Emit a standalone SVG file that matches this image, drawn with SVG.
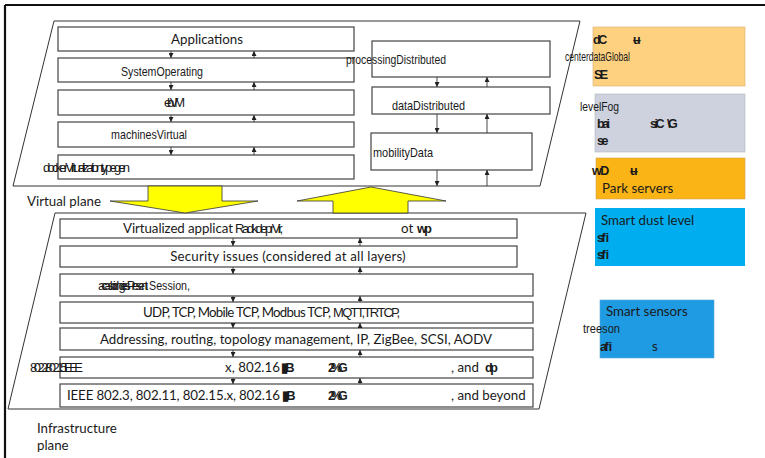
<svg xmlns="http://www.w3.org/2000/svg" width="765" height="458" viewBox="0 0 765 458">
<defs>
<marker id="ah" viewBox="0 0 6 6" refX="6" refY="3" markerWidth="5" markerHeight="5" orient="auto" markerUnits="userSpaceOnUse">
<path d="M0,0 L6,3 L0,6 z" fill="#222"/>
</marker>
<style>
.plane{fill:#fff;stroke:#333;stroke-width:1}
.box{fill:#fff;stroke:#444;stroke-width:1.2}
.t{font-family:Lato,"Liberation Sans",sans-serif;font-size:13.3px;fill:#1a1a1a}
.n{font-family:"Liberation Sans",Arial,sans-serif;font-size:13px;fill:#1a1a1a}
.g{font-family:"Liberation Sans",Arial,sans-serif;font-size:12.5px;font-weight:bold;fill:#1a1a1a;letter-spacing:-2.5px}
.con line{stroke:#333;stroke-width:0.9;marker-end:url(#ah)}
.yel{fill:#ffff00;stroke:#333;stroke-width:0.8}
</style>
</defs>
<rect width="765" height="458" fill="#fff"/>
<path d="M5,5 H765 M5,5 V458" stroke="#111" stroke-width="2.2" fill="none"/>

<g id="virtual-plane">
<polygon class="plane" points="54,21 580,21 540,186 13,186"/>
<text class="t" x="27" y="206">Virtual plane</text>
</g>
<g id="infrastructure-plane">
<polygon class="plane" points="55,213 586,213 539,409 8,409"/>
<text class="t" x="37" y="433">Infrastructure</text>
<text class="t" x="37" y="450">plane</text>
</g>

<g id="applications"><rect class="box" x="58" y="27" width="296" height="24"/><text class="t" x="207" y="44" text-anchor="middle">Applications</text></g>
<g id="operating-system"><rect class="box" x="58" y="58" width="296" height="24"/><text class="n" x="121" y="76" textLength="82" lengthAdjust="spacingAndGlyphs">SystemOperating</text></g>
<g id="vm"><rect class="box" x="58" y="90" width="296" height="25"/><text class="n" x="164" y="107" textLength="21" lengthAdjust="spacing">ebVM</text></g>
<g id="virtual-machines"><rect class="box" x="58" y="122" width="296" height="25"/><text class="n" x="111" y="139" textLength="76" lengthAdjust="spacingAndGlyphs">machinesVirtual</text></g>
<g id="virtualization"><rect class="box" x="58" y="155" width="296" height="24"/><text class="n" x="43" y="172" textLength="87" lengthAdjust="spacing">dockerVirtualizationtypegen</text></g>

<g id="distributed-processing"><rect class="box" x="372" y="41" width="178" height="36"/><text class="n" x="346" y="64" textLength="100" lengthAdjust="spacingAndGlyphs">processingDistributed</text></g>
<g id="distributed-data"><rect class="box" x="372" y="87" width="178" height="27"/><text class="n" x="392" y="110" textLength="73" lengthAdjust="spacingAndGlyphs">dataDistributed</text></g>
<g id="data-mobility"><rect class="box" x="371" y="133" width="161" height="37"/><text class="n" x="373" y="157" textLength="60" lengthAdjust="spacingAndGlyphs">mobilityData</text></g>

<g id="arrow-down"><polygon class="yel" points="148,186 222,186 222,201 258,201 185,213 110,201 148,201"/></g>
<g id="arrow-up"><polygon class="yel" points="333,213 408,213 408,201 446,201 371,187 297,201 333,201"/></g>

<g id="virtualized-apps"><rect class="box" x="60" y="219" width="457" height="19"/><text class="t" x="123" y="233" textLength="110">Virtualized  applicat</text><text class="n" x="235" y="233" textLength="48" lengthAdjust="spacing">RadkdeprVir,</text><text class="t" x="401" y="233">ot</text><text class="g" x="417" y="233">wp</text></g>
<g id="security"><rect class="box" x="60" y="246" width="457" height="21"/><text class="t" x="288" y="261" text-anchor="middle" style="letter-spacing:0.2px">Security issues (considered at all layers)</text></g>
<g id="session"><rect class="box" x="60" y="274" width="473" height="22"/><text class="n" x="98" y="290" textLength="50" lengthAdjust="spacing">acasbidngiesPresent</text><text class="n" x="149" y="290" textLength="41" lengthAdjust="spacingAndGlyphs">Session,</text></g>
<g id="transport"><rect class="box" x="60" y="302" width="473" height="21"/><text class="t" x="143" y="317" textLength="188">UDP, TCP, Mobile TCP, Modbus TCP,</text><text class="n" x="333" y="317" textLength="67" lengthAdjust="spacing">MQTT,TRTCP,</text></g>
<g id="network"><rect class="box" x="60" y="328" width="473" height="22"/><text class="t" x="100" y="344" textLength="392">Addressing, routing, topology management, IP, ZigBee, SCSI, AODV</text></g>
<g id="datalink"><rect class="box" x="60" y="357" width="473" height="21"/><text class="n" x="30" y="372" textLength="53" lengthAdjust="spacing">802.2/802.15IEEE</text><text class="t" x="225" y="372" textLength="55">x, 802.16</text><text class="g" x="281" y="372">▮B</text><text class="g" x="328" y="372" style="letter-spacing:-4px">2%G</text><text class="t" x="451" y="372">, and</text><text class="g" x="485" y="372">dp</text></g>
<g id="physical"><rect class="box" x="60" y="384" width="473" height="23"/><text class="t" x="67" y="400" textLength="213">IEEE 802.3, 802.11, 802.15.x, 802.16</text><text class="g" x="282" y="400">▮B</text><text class="g" x="328" y="400" style="letter-spacing:-4px">2%G</text><text class="t" x="451" y="400">, and beyond</text></g>

<g id="global-data-center"><rect x="593" y="27" width="152" height="59" fill="#fdd17f" stroke="#d8b070" stroke-width="0.6"/><text class="g" x="593" y="44">dC</text><text class="g" x="633" y="44">ʉ</text><text class="n" x="565" y="61" textLength="65" lengthAdjust="spacingAndGlyphs">centerdataGlobal</text><text class="g" x="594" y="79">SE</text></g>
<g id="fog-level"><rect x="595" y="94" width="150" height="58" fill="#cdd2de" stroke="#b0b4c0" stroke-width="0.6"/><text class="n" x="580" y="111" textLength="39" lengthAdjust="spacingAndGlyphs">levelFog</text><text class="g" x="597" y="128">bai</text><text class="g" x="650" y="128">siC</text><text class="g" x="667" y="128">\G</text><text class="g" x="597" y="145">se</text></g>
<g id="park-servers"><rect x="596" y="158" width="149" height="41" fill="#fbb416" stroke="#d0a050" stroke-width="0.6"/><text class="g" x="592" y="175" style="letter-spacing:-1.5px">wD</text><text class="g" x="630" y="175">ʉ</text><text class="t" x="602" y="193">Park servers</text></g>
<g id="smart-dust"><rect x="595" y="208" width="150" height="58" fill="#00aeef"/><text class="t" x="601" y="225">Smart dust level</text><text class="g" x="597" y="242">sﬁ</text><text class="g" x="597" y="259">sﬁ</text></g>
<g id="smart-sensors"><rect x="600" y="300" width="114" height="58" fill="#1f9be3" stroke="#5aa8d8" stroke-width="0.6"/><text class="t" x="606" y="316">Smart sensors</text><text class="n" x="583" y="333" textLength="37" lengthAdjust="spacingAndGlyphs">treeson</text><text class="g" x="600" y="351">aﬁ</text><text class="t" x="652" y="351">s</text></g>

<g id="connectors" class="con">
<line x1="171" y1="51" x2="171" y2="58"/><line x1="171" y1="82" x2="171" y2="90"/><line x1="171" y1="115" x2="171" y2="122"/><line x1="171" y1="147" x2="171" y2="155"/>
<line x1="254" y1="58" x2="254" y2="51"/><line x1="254" y1="90" x2="254" y2="82"/><line x1="254" y1="122" x2="254" y2="115"/><line x1="254" y1="155" x2="254" y2="147"/>
<line x1="437" y1="77" x2="437" y2="87"/><line x1="437" y1="114" x2="437" y2="133"/><line x1="437" y1="170" x2="437" y2="186"/>
<line x1="487" y1="87" x2="487" y2="77"/><line x1="487" y1="133" x2="487" y2="114"/><line x1="487" y1="186" x2="487" y2="170"/>
<line x1="233" y1="238" x2="233" y2="246"/><line x1="233" y1="267" x2="233" y2="274"/><line x1="233" y1="296" x2="233" y2="302"/><line x1="233" y1="323" x2="233" y2="328"/><line x1="233" y1="350" x2="233" y2="357"/><line x1="233" y1="378" x2="233" y2="384"/>
<line x1="360" y1="246" x2="360" y2="238"/><line x1="360" y1="274" x2="360" y2="267"/><line x1="360" y1="302" x2="360" y2="296"/><line x1="360" y1="328" x2="360" y2="323"/><line x1="360" y1="357" x2="360" y2="350"/><line x1="360" y1="384" x2="360" y2="378"/>
</g>
</svg>
